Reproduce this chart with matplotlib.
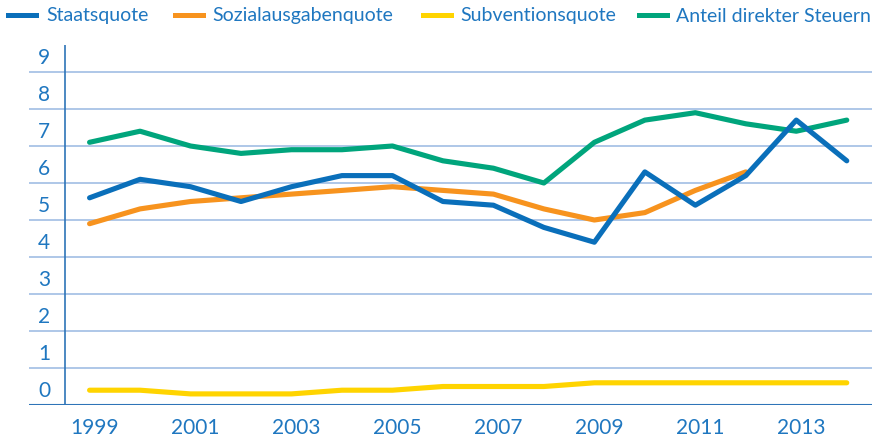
import matplotlib
matplotlib.use("Agg")
import matplotlib.pyplot as plt
import matplotlib.transforms as mtransforms
from matplotlib.lines import Line2D
import numpy as np

years = list(range(1999, 2015))
staatsquote = [5.6, 6.1, 5.9, 5.5, 5.9, 6.2, 6.2, 5.5, 5.4, 4.8, 4.4, 6.3, 5.4, 6.2, 7.7, 6.6]
sozialausgabenquote = [4.9, 5.3, 5.5, 5.6, 5.7, 5.8, 5.9, 5.8, 5.7, 5.3, 5.0, 5.2, 5.8, 6.3, np.nan, np.nan]
subventionsquote = [0.4, 0.4, 0.3, 0.3, 0.3, 0.4, 0.4, 0.5, 0.5, 0.5, 0.6, 0.6, 0.6, 0.6, 0.6, 0.6]
direkte_steuern = [7.1, 7.4, 7.0, 6.8, 6.9, 6.9, 7.0, 6.6, 6.4, 6.0, 7.1, 7.7, 7.9, 7.6, 7.4, 7.7]

series_names = ["Staatsquote", "Sozialausgabenquote", "Subventionsquote", "Anteil direkter Steuern"]
y_ticks = list(range(0, 10))
x_tick_years = list(range(1999, 2014, 2))

BLUE = "#0a6fba"
ORANGE = "#f7931e"
YELLOW = "#ffd400"
GREEN = "#00a57c"
TEXT = "#1f77c0"
GRID = "#a8c3e6"
AXIS = "#2e74b8"

plt.rcParams["font.family"] = ["Lato", "DejaVu Sans"]

fig = plt.figure(figsize=(8.79, 4.40), dpi=100)
ax = fig.add_axes([29 / 879, 35 / 440, 843 / 879, 360 / 440])
ax.set_xlim(1997.80, 2014.50)
ax.set_ylim(0, 9.73)

for v in y_ticks[1:]:
    ax.axhline(v, color=GRID, lw=1.3, zorder=1)
ax.axhline(0, color=AXIS, lw=1.5, zorder=1)
ax.axvline(1998.515, color=AXIS, lw=1.2, zorder=1)

line_kw = dict(lw=3.7, solid_capstyle="round", solid_joinstyle="round", zorder=3)
ax.plot(years, subventionsquote, color=YELLOW, **line_kw)
ax.plot(years, direkte_steuern, color=GREEN, **line_kw)
ax.plot(years, sozialausgabenquote, color=ORANGE, **line_kw)
ax.plot(years, staatsquote, color=BLUE, **line_kw)

for s in ax.spines.values():
    s.set_visible(False)
ax.set_yticks([])
for v in y_ticks:
    ax.text(1998.10, v + 0.37, str(v), ha="center", va="center",
            fontsize=15, color=TEXT)

ax.set_xticks(x_tick_years)
ax.set_xticklabels([str(y) for y in x_tick_years], fontsize=15, color=TEXT)
ax.tick_params(axis="x", length=0, pad=9)
offset = mtransforms.ScaledTranslation(5 / 100, 0, fig.dpi_scale_trans)
for lbl in ax.get_xticklabels():
    lbl.set_transform(lbl.get_transform() + offset)

# legend row along the top
colors = [BLUE, ORANGE, YELLOW, GREEN]
handle_x = [8, 175, 423, 639]
text_x = [46, 212, 460, 676]
for name, c, hx, tx in zip(series_names, colors, handle_x, text_x):
    fig.add_artist(Line2D([hx / 879, (hx + 28) / 879], [1 - 15 / 440] * 2,
                          color=c, lw=3.6, transform=fig.transFigure))
    fig.text(tx / 879, 1 - 16 / 440, name, ha="left", va="center",
             fontsize=14, color=TEXT)

fig.savefig("out.png", dpi=100)
